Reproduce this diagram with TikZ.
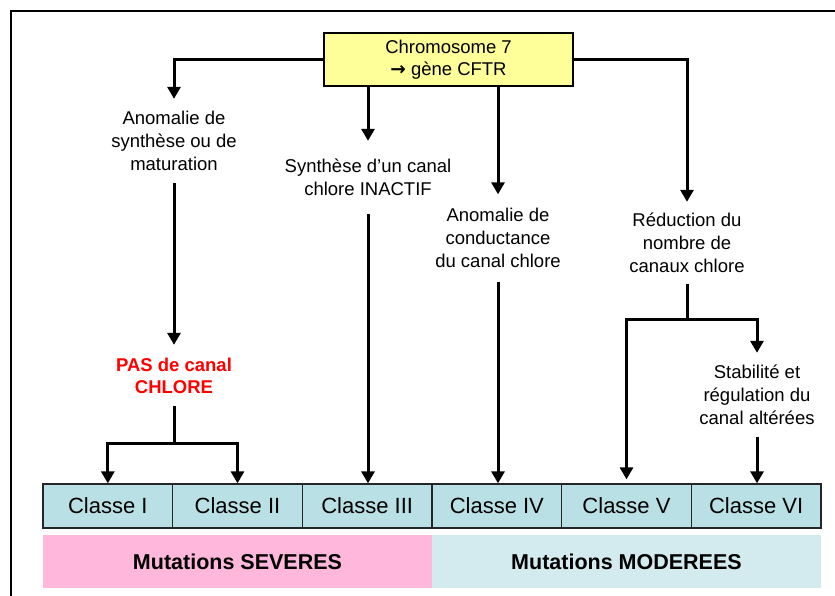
\documentclass[tikz,border=0pt]{standalone}
\usepackage{fontspec}
\setmainfont{Liberation Sans}
\newfontfamily\arrowfont{DejaVu Sans}
\usetikzlibrary{arrows.meta}
\definecolor{boxyellow}{RGB}{255,255,153}
\definecolor{cellteal}{RGB}{185,224,228}
\definecolor{bandpink}{RGB}{255,183,219}
\definecolor{bandcyan}{RGB}{211,235,238}
\definecolor{pasred}{RGB}{255,0,0}
\tikzset{
  lbl/.style={inner sep=0pt, align=center, font=\fontsize{18.5}{23}\selectfont},
  cell/.style={draw=black!85, line width=1.3pt, fill=cellteal, minimum width=129.67pt, minimum height=44pt, inner sep=0pt, font=\fontsize{22}{26}\selectfont},
  band/.style={inner sep=0pt, minimum width=389pt, minimum height=53pt, font=\fontsize{21.5}{26}\selectfont\bfseries},
  arr/.style={line width=3pt, -{Triangle[length=12pt,width=13pt]}},
  ln/.style={line width=3pt},
}
\begin{document}
\begin{tikzpicture}[x=1pt,y=-1pt]
\useasboundingbox (0,0) rectangle (835,595);
% frame
\draw[line width=2.2pt] (11,600) -- (11,11) -- (840,11);

% top box
\node[draw=black, line width=1.6pt, fill=boxyellow, minimum width=249pt, minimum height=53pt, inner sep=0pt, align=center, font=\fontsize{18.5}{22}\selectfont] (top) at (448.5,59.5) {Chromosome 7\\{\arrowfont\bfseries\fontsize{18.5}{22}\selectfont →} gène CFTR};

% labels
\node[lbl, minimum height=84pt] (a1) at (174,141) {Anomalie de\\synthèse ou de\\maturation};
\node[lbl, minimum height=73pt] (a2) at (368,177.5) {Synthèse d’un canal\\chlore INACTIF};
\node[lbl, minimum height=87pt] (a3) at (498,238) {Anomalie de\\conductance\\du canal chlore};
\node[lbl, minimum height=82pt] (a4) at (687,243) {Réduction du\\nombre de\\canaux chlore};
\node[lbl, minimum height=61pt, text=pasred, font=\fontsize{18.5}{22}\selectfont\bfseries] (pas) at (174,375.5) {PAS de canal\\CHLORE};
\node[lbl, minimum height=84pt] (stab) at (757,395) {Stabilité et\\régulation du\\canal altérées};

% classes
\node[cell] (c1) at (107.83,506) {Classe I};
\node[cell] (c2) at (237.5,506) {Classe II};
\node[cell] (c3) at (367.17,506) {Classe III};
\node[cell] (c4) at (496.83,506) {Classe IV};
\node[cell] (c5) at (626.5,506) {Classe V};
\node[cell] (c6) at (756.17,506) {Classe VI};

% bands
\node[band, fill=bandpink] (sev) at (237.5,561.5) {Mutations SEVERES};
\node[band, fill=bandcyan] (mod) at (626.5,561.5) {Mutations MODEREES};

% connectors from top
\draw[arr] (top.west) -| (a1.north);
\draw[arr] (top.east) -| (a4.north);
\draw[arr] (a2.north |- top.south) -- (a2.north);
\draw[arr] (a3.north |- top.south) -- (a3.north);

% left branch
\draw[arr] (a1.south) -- (pas.north);
\coordinate (j1) at (174,443);
\draw[ln] (pas.south) -- (j1);
\draw[arr] (j1) -| (c1.north);
\draw[arr] (j1) -| (c2.north);

% middle
\draw[arr] (a2.south) -- (a2.south |- c3.north);
\draw[arr] (a3.south) -- (a3.south |- c4.north);

% right branch
\coordinate (j2) at (687,319);
\draw[ln] (a4.south) -- (j2);
\draw[arr, shorten >=4pt] (j2) -| (c5.north);
\draw[arr] (j2) -| (stab.north);
\draw[arr] (stab.south) -- (stab.south |- c6.north);
\end{tikzpicture}
\end{document}
